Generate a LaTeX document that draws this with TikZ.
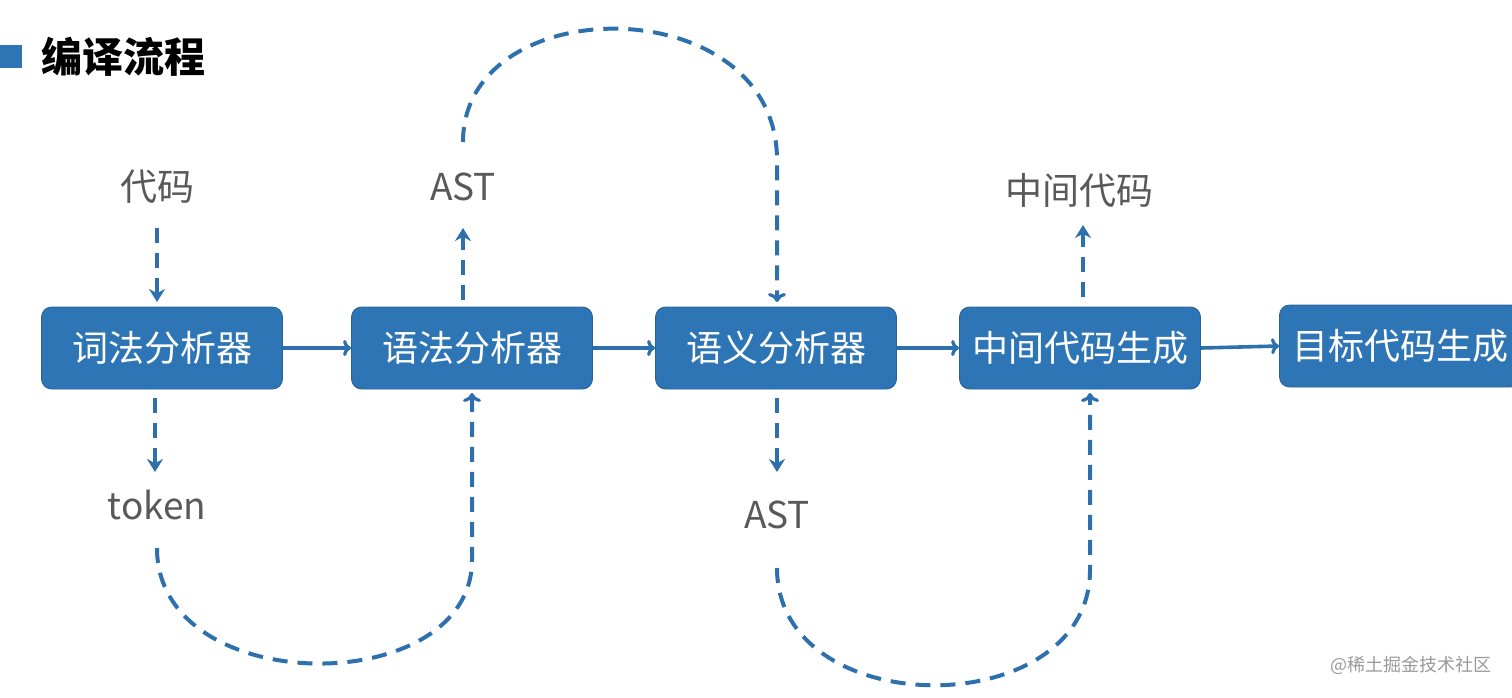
\documentclass[tikz,border=0pt]{standalone}
\usepackage{fontspec}
\setmainfont{Noto Sans CJK SC}
\usetikzlibrary{arrows.meta}
\definecolor{boxblue}{HTML}{2E75B6}
\definecolor{linkblue}{HTML}{2E6FAE}
\definecolor{labelgray}{HTML}{595959}
\begin{document}
\begin{tikzpicture}[x=1pt,y=-1pt,
  stagebox/.style={fill=boxblue, draw=boxblue!85!black, line width=0.8pt, rounded corners=10pt,
    minimum width=241pt, minimum height=82pt, text=white, inner sep=0pt,
    font=\fontsize{36}{42}\selectfont},
  lbl/.style={text=labelgray, inner sep=2pt, font=\fontsize{37}{42}\selectfont},
  solidarrow/.style={draw=linkblue, line width=3.6pt, -{To[length=8pt,width=16pt,line width=3.2pt]}},
  dasharrow/.style={draw=linkblue, line width=4pt, dash pattern=on 15pt off 10pt,
    -{Stealth[length=13pt,width=16pt]}},
  dashcurve/.style={draw=linkblue, line width=4pt, dash pattern=on 15pt off 10pt,
    -{To[length=9pt,width=18pt,line width=3.2pt]}}
]
\useasboundingbox (0,0) rectangle (1512,697);
% title
\fill[boxblue] (0,45) rectangle (22,68);
\node[anchor=west, inner sep=0pt, font=\fontsize{41}{46}\selectfont\bfseries] (title) at (41,57) {编译流程};
% boxes
\node[stagebox] (b1) at (162,348) {词法分析器};
\node[stagebox] (b2) at (472,348) {语法分析器};
\node[stagebox] (b3) at (776,348) {语义分析器};
\node[stagebox] (b4) at (1080,348) {中间代码生成};
\node[stagebox] (b5) at (1400,346) {目标代码生成};
% labels
\node[lbl] (code) at (157,187) {代码};
\node[lbl] (ast1) at (463,187) {AST};
\node[lbl] (mid) at (1079,190) {中间代码};
\node[lbl] (token) at (157,505) {token};
\node[lbl] (ast2) at (777,515) {AST};
% watermark
\node[text=black!40, font=\fontsize{18}{21}\selectfont] (wm) at (1411,665) {@稀土掘金技术社区};
% solid arrows
\draw[solidarrow] (b1.east) -- (b2.west);
\draw[solidarrow] (b2.east) -- (b3.west);
\draw[solidarrow] (b3.east) -- (b4.west);
\draw[solidarrow] (b4.east) -- (b5.west);
% short dashed arrows
\draw[dasharrow] (157,228) -- (157,302);
\draw[dasharrow] (155,398) -- (155,472);
\draw[dasharrow] (463,300) -- (463,228);
\draw[dasharrow] (777,398) -- (777,472);
\draw[dasharrow] (1083,297) -- (1083,225);
% long curves
\coordinate (c1s) at (463,142);
\coordinate (c1e) at (777,302);
\draw[dashcurve] (c1s) .. controls (463,-12) and (777,-12) .. (777,160) -- (c1e);
\coordinate (c2s) at (157,548);
\coordinate (c2e) at (472,393);
\draw[dashcurve] (c2s) .. controls (157,700) and (472,700) .. (472,560) -- (c2e);
\coordinate (c3s) at (777,568);
\coordinate (c3e) at (1090,393);
\draw[dashcurve] (c3s) .. controls (777,724) and (1090,724) .. (1090,570) -- (c3e);
\end{tikzpicture}
\end{document}
